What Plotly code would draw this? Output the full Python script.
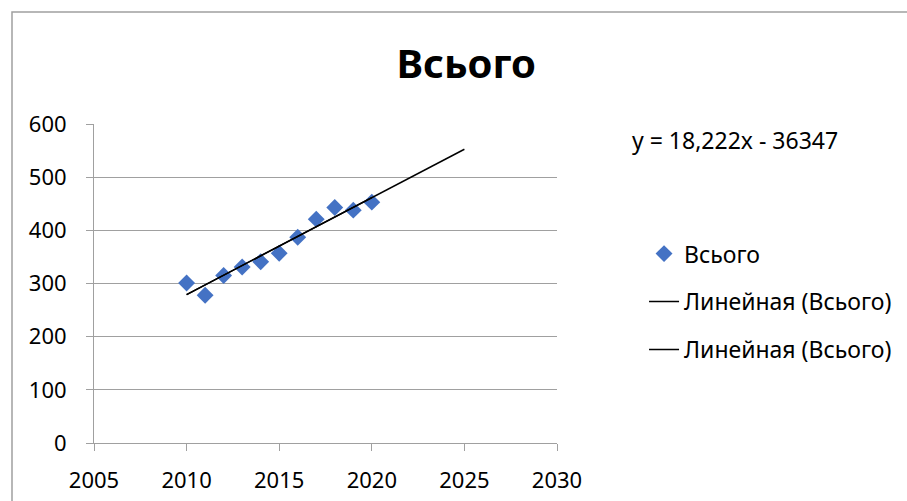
import plotly.graph_objects as go

years = [2010, 2011, 2012, 2013, 2014, 2015, 2016, 2017, 2018, 2019, 2020]
totals = [301, 278, 315, 331, 341, 357, 387, 421, 443, 438, 453]
slope = 18.222
intercept = -36347
trend_years = [2010, 2025]
trend2_years = [2010, 2020]

series_name = "Всього"
trend_name = "Линейная (Всього)"
equation_text = "y = 18,222x - 36347"
x_ticks = [2005, 2010, 2015, 2020, 2025, 2030]
y_ticks = [0, 100, 200, 300, 400, 500, 600]

FONT = "Noto Sans"
GRAY = "#a0a0a0"

fig = go.Figure()
fig.add_trace(go.Scatter(
    x=years, y=totals, mode="markers", name=series_name,
    marker=dict(symbol="diamond", size=13, color="#4472C4"),
    legendgroup="a",
))
fig.add_trace(go.Scatter(
    x=trend_years, y=[slope * t + intercept for t in trend_years],
    mode="lines", name=trend_name, line=dict(color="black", width=1.5),
    legendgroup="b",
))
fig.add_trace(go.Scatter(
    x=trend2_years, y=[slope * t + intercept for t in trend2_years],
    mode="lines", name=trend_name, line=dict(color="black", width=1.5),
    legendgroup="c",
))

fig.update_layout(
    width=907, height=501,
    margin=dict(l=94, r=350, t=124, b=58, autoexpand=False),
    paper_bgcolor="white", plot_bgcolor="white",
    font=dict(family=FONT, size=22, color="black"),
    title=dict(text="<b>Всього</b>", x=0.514, xanchor="center", y=0.872, yanchor="middle",
               font=dict(family=FONT, size=40, color="black")),
    showlegend=True,
    legend=dict(x=1.188, y=0.661, xanchor="left", yanchor="top",
                font=dict(family=FONT, size=23), tracegroupgap=15,
                bgcolor="rgba(0,0,0,0)"),
    xaxis=dict(range=[2005, 2030], tickvals=x_ticks, showgrid=False,
               showline=True, linecolor=GRAY, linewidth=1, automargin=False,
               ticks="outside", ticklen=7, tickcolor=GRAY, zeroline=False,
               ticklabelstandoff=11),
    yaxis=dict(range=[0, 600], tickvals=y_ticks, showgrid=True, gridcolor=GRAY,
               gridwidth=1, showline=True, linecolor=GRAY, linewidth=1, automargin=False,
               ticks="outside", ticklen=7, tickcolor=GRAY, zeroline=False,
               ticklabelstandoff=15),
    shapes=[dict(type="rect", xref="paper", yref="paper",
                 x0=-0.1771, y0=-0.25, x1=1.8, y1=1.3511,
                 line=dict(color=GRAY, width=1.5), layer="below")],
    annotations=[dict(text=equation_text, xref="paper", yref="paper",
                      x=1.158, y=0.95, xanchor="left", yanchor="middle",
                      showarrow=False, font=dict(family=FONT, size=23))],
)

fig.write_html("out.html")
